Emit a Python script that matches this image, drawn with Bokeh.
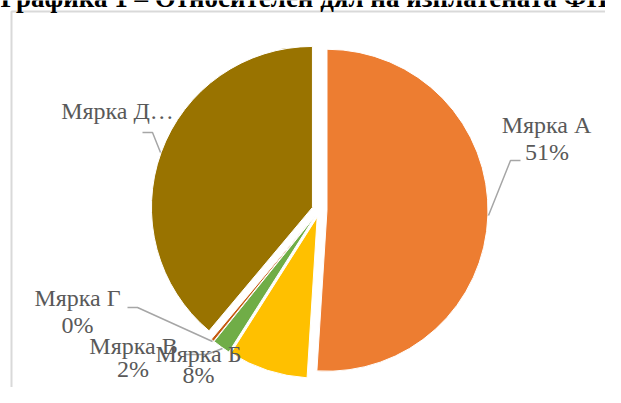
import math
from bokeh.plotting import figure
from bokeh.models import Range1d, ColumnDataSource
from bokeh.core.properties import value
from bokeh.embed import file_html
from bokeh.resources import INLINE

# ---- data ----
title_text = "Графика 1 – Относителен дял на изплатената ФП по мерки"
categories = ["Мярка А", "Мярка Б", "Мярка В", "Мярка Г", "Мярка Д"]
shares = [51.0, 8.0, 1.8, 0.3, 38.9]
colors = ["#ED7D31", "#FFC000", "#70AD47", "#C55A11", "#997300"]
label_texts = ["Мярка А", "Мярка Б", "Мярка В", "Мярка Г", "Мярка Д…"]
show_pct = [True, True, True, True, False]

# ---- layout (picture pixel coordinates, y down) ----
W, H = 605, 387
TEXT_SHIFT = 9  # baseline correction for text glyphs

def py(pic_y):
    return H - pic_y

def pyt(pic_y):
    return H - (pic_y - TEXT_SHIFT)

CX, CY, R, EXPLODE = 319.0, 209.5, 161.0, 7.5
name_pos = [(546, 133), (198, 362), (133, 354), (77, 306.5), (117, 119)]
pct_pos = [(546.5, 160), (198, 383), (132.5, 377), (77, 333), None]
leaders = [
    [(520, 160), (510, 160), (488, 215)],
    [(142, 132), (152, 132), (160, 152)],
    [(127, 307), (137, 307), (212, 341)],
    [(184, 354), (206, 354), (222, 348)],
]

p = figure(width=W, height=H, output_backend="svg", toolbar_location=None,
           x_range=Range1d(0, W), y_range=Range1d(0, H),
           min_border=0, min_border_left=0, min_border_right=0,
           min_border_top=0, min_border_bottom=0)
p.axis.visible = False
p.grid.visible = False
p.outline_line_color = None
p.background_fill_color = "white"
p.border_fill_color = "white"

# chart-area border (light gray, only left and top edges visible)
p.line(x=[11, 11, 2000], y=[py(2000), py(11), py(11)],
       line_color="#D9D9D9", line_width=2)

# title (cut off at the top, as in the source)
p.text(x=[0], y=[pyt(6)], text=[title_text], text_align="left",
       text_baseline="alphabetic", text_font=value("Liberation Serif"),
       text_font_style="bold", text_font_size="27px", text_color="#000000")

# ---- wedges ----
total = sum(shares)
xs, ys, starts, ends = [], [], [], []
acc = 0.0
for s in shares:
    a0 = acc / total * 2 * math.pi
    acc += s
    a1 = acc / total * 2 * math.pi
    mid = (a0 + a1) / 2
    xs.append(CX + EXPLODE * math.sin(mid))
    ys.append(py(CY) + EXPLODE * math.cos(mid))
    starts.append(math.pi / 2 - a1)
    ends.append(math.pi / 2 - a0)

src = ColumnDataSource(dict(x=xs, y=ys, start=starts, end=ends, color=colors))
p.wedge(x="x", y="y", radius=R, start_angle="start", end_angle="end",
        fill_color="color", line_color="white", line_width=1, source=src)

# ---- leader lines ----
p.multi_line(xs=[[pt[0] for pt in l] for l in leaders],
             ys=[[py(pt[1]) for pt in l] for l in leaders],
             line_color="#A6A6A6", line_width=1.5)

# ---- labels ----
nx = [pos[0] for pos in name_pos]
ny = [pyt(pos[1]) for pos in name_pos]
p.text(x=nx, y=ny, text=label_texts, text_align="center",
       text_baseline="alphabetic", text_font=value("Liberation Serif"),
       text_font_size="24px", text_color="#595959")

px, pyy, pt = [], [], []
for s, pos, show in zip(shares, pct_pos, show_pct):
    if show:
        px.append(pos[0])
        pyy.append(pyt(pos[1]))
        pt.append(f"{round(s)}%")
p.text(x=px, y=pyy, text=pt, text_align="center",
       text_baseline="alphabetic", text_font=value("Liberation Serif"),
       text_font_size="24px", text_color="#595959")

open("out.html", "w").write(file_html(p, INLINE))
